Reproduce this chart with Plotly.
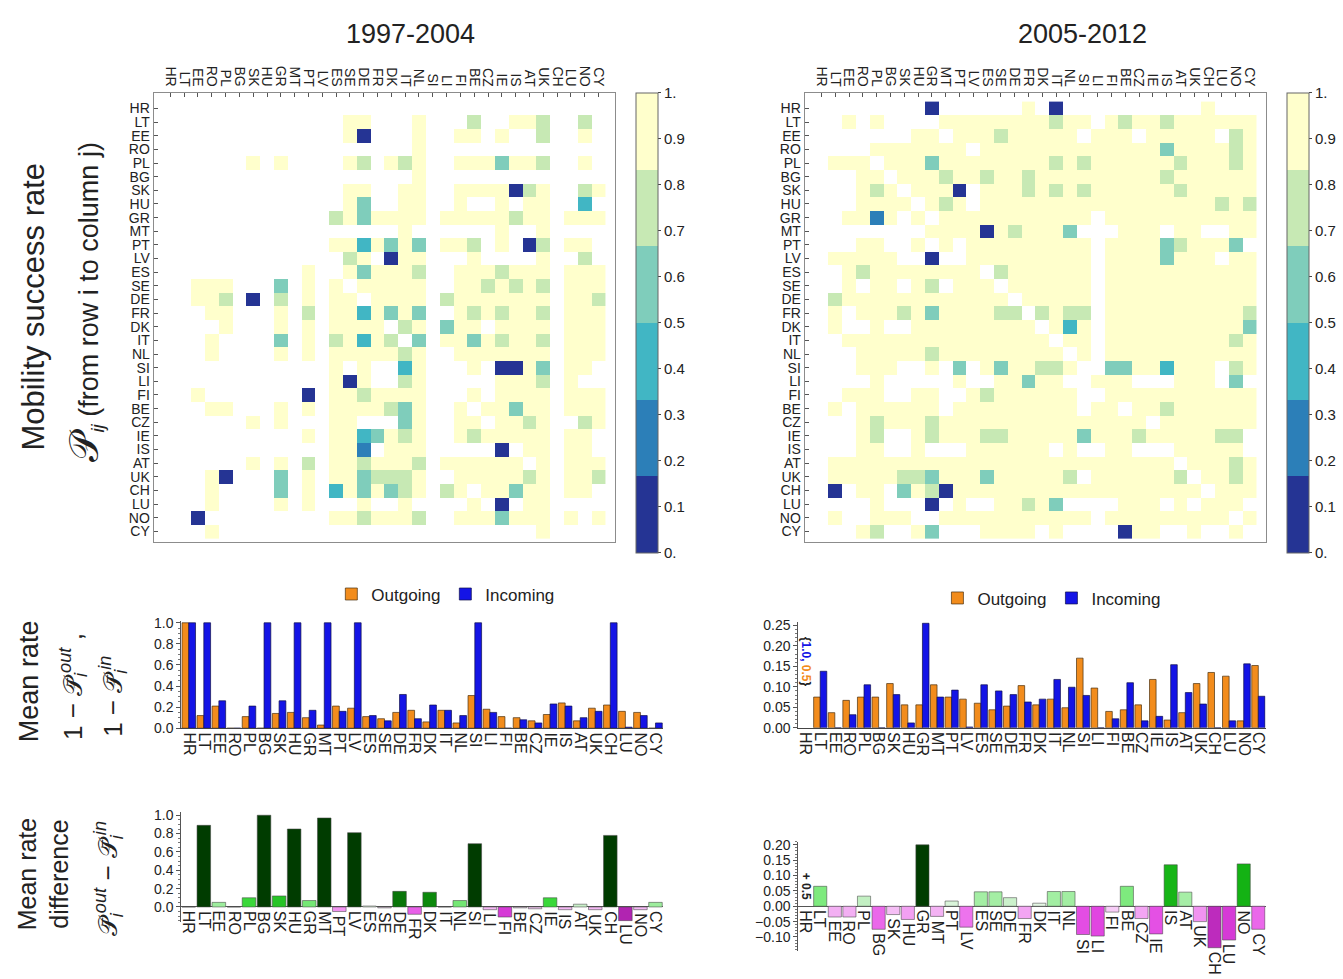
import plotly.graph_objects as go

W, H = 1343, 979

COUNTRIES = ["HR", "LT", "EE", "RO", "PL", "BG", "SK", "HU", "GR", "MT", "PT", "LV",
             "ES", "SE", "DE", "FR", "DK", "IT", "NL", "SI", "LI", "FI", "BE", "CZ",
             "IE", "IS", "AT", "UK", "CH", "LU", "NO", "CY"]

PERIODS = ["1997-2004", "2005-2012"]

# Success-rate class of each matrix cell; "." means no recorded moves.
LEVEL_VALUES = {"0": 0.06, "1": 0.25, "2": 0.42, "3": 0.58, "4": 0.75, "5": 0.93}

# Rows = origin country i, columns = destination country j (same order as COUNTRIES).
P_1997 = [
    "................................",
    ".............55...5...4..554..4.",
    ".............50...5..55.5..4..5.",
    "..................5.............",
    "......5.5....54.545..5553554..5.",
    "..................5.............",
    ".............55..55..5555045..45",
    ".............53..55..5..5.55..2.",
    "............4535555.55555455.555",
    ".................5......5..5....",
    "............5525353.554.5.04.55.",
    ".............45.055...5....5..4.",
    "..........5..535554..5554555.555",
    "..555...3.5.5.55555..5545454.555",
    "..554.0.4.5.55.5555.45555555.554",
    "...55...5.4.5525353..5454554.555",
    "....5...5.5.5555.45.355.5555.555",
    "...5....3.5.45254.3.55354554.555",
    "...5....5.5.5555545..5555555.555",
    "............5.5..25...5.0053.55.",
    "............505..45.....5554.5..",
    "..5.......0.5545555...5.5555.555",
    "...55...5.5.5555435..5.55355.555",
    "......5.5...55...35..55.5545..45",
    "..........5.5523545..5455555.55.",
    "............551.555.....0.55.55.",
    "......5.5.4.5545554.555555.5.555",
    "...50...3.5.5534445..5555545.554",
    "...5....3.5.2535345.45.55355.55.",
    "...5....5.5...5..5....5.0.55....",
    "..0.........5545554..5553555.5.5",
    "...5.......................5....",
]

P_2005 = [
    "........0......5.0..........5...",
    "..5.5....55555555455.54554555555",
    ".......55.555455555.555.55555.45",
    "....5555555.55555555555553555545",
    ".555.555355555555454555555455545",
    "...55.55545545545555555554555555",
    "...545.5550.55545454555555455555",
    "...5555.545.55555555555555555454",
    "..5515.5.55555555555.55555555555",
    "........55550545553...555.55..55",
    "...55..5.5.555555555.5555345553.",
    ".55555..0..555555555.55553555.55",
    "..5455555555.4555555.55555555555",
    "..5.55.54.555.555555.55555555555",
    ".4555555555555.55555.55555555555",
    ".5.555453555544.4544.55555555554",
    ".5..5..555555555.525.55555555553",
    "..555555555555555.55.55555555545",
    "...555554555555555.5.55555555555",
    "...555..5.3.5355445..33552555.45",
    "....5.....5..55355..555...555.3.",
    "..555..55..54555555..55555555555",
    ".5.555555.555555555.55.554555555",
    "...545554555555555555555.5555555",
    "...54..545554455555355545555544.",
    "...55..5...555555.5..55...55555.",
    ".5555555555555555555555555.55545",
    ".555554435553555554.5555554.5545",
    ".0.55.3540555555555555555555.555",
    "....5...0.5..55453....555.5.555.",
    ".5..555..55555555555.555555555.5",
    "...54..53...5555.5....055..5..5.",
]

# Mean rates 1 - P_out (outgoing) and 1 - P_in (incoming) per country.
OUT_1997 = [1.0, 0.12, 0.21, 0.0, 0.11, 0.0, 0.14, 0.15, 0.10, 0.03, 0.21, 0.19,
            0.11, 0.09, 0.15, 0.17, 0.06, 0.17, 0.05, 0.31, 0.18, 0.11, 0.10, 0.07,
            0.13, 0.24, 0.07, 0.19, 0.22, 0.16, 0.15, 0.0]
IN_1997 = [1.0, 1.0, 0.26, 0.0, 0.21, 1.0, 0.26, 1.0, 0.17, 1.0, 0.16, 1.0,
           0.12, 0.07, 0.32, 0.09, 0.22, 0.17, 0.12, 1.0, 0.15, 0.0, 0.08, 0.05,
           0.23, 0.21, 0.10, 0.16, 1.0, 0.01, 0.12, 0.05]
OUT_2005 = [None, 0.075, 0.037, 0.067, 0.075, 0.075, 0.108, 0.056, 0.056, 0.105, 0.075, 0.070,
            0.060, 0.044, 0.053, 0.103, 0.056, 0.070, 0.049, 0.170, 0.097, 0.040, 0.044, 0.056,
            0.118, 0.019, 0.037, 0.108, 0.135, 0.126, 0.017, 0.152]
IN_2005 = [None, 0.138, 0.0, 0.032, 0.105, 0.0, 0.081, 0.012, 0.255, 0.075, 0.092, 0.002,
           0.105, 0.090, 0.081, 0.063, 0.070, 0.118, 0.099, 0.079, 0.0, 0.022, 0.110, 0.017,
           0.028, 0.154, 0.086, 0.058, 0.0, 0.017, 0.156, 0.077]
# HR 2005-2012 lies outside the plotted range: (incoming, outgoing)
HR_2005_IN, HR_2005_OUT = 1.0, 0.5

# Mean rate difference P_out - P_in per country.
DIFF_1997 = [0.0, 0.89, 0.05, 0.0, 0.10, 1.0, 0.12, 0.85, 0.07, 0.97, -0.05, 0.81,
             0.01, -0.01, 0.17, -0.08, 0.16, 0.0, 0.07, 0.69, -0.03, -0.11, -0.01, -0.02,
             0.10, -0.03, 0.03, -0.03, 0.78, -0.15, -0.03, 0.05]
DIFF_2005 = [None, 0.065, -0.035, -0.035, 0.033, -0.075, -0.027, -0.043, 0.20, -0.033, 0.017, -0.068,
             0.047, 0.047, 0.028, -0.04, 0.01, 0.048, 0.048, -0.092, -0.097, -0.019, 0.065, -0.04,
             -0.09, 0.135, 0.046, -0.05, -0.135, -0.11, 0.138, -0.075]
HR_2005_DIFF = 0.5

FONT = "Liberation Sans, Arial, sans-serif"
ORANGE = "#f28c1c"
BLUE = "#1414e6"
HEAT_COLORS = ["#253494", "#2c7fb8", "#41b6c4", "#7fcdbb", "#c7e9b4", "#ffffcc"]


def px_x(p):
    return p / W


def px_y(p):
    return 1 - p / H


def decode(rows):
    return [[LEVEL_VALUES.get(ch) for ch in row] for row in rows]


def discrete_scale(colors):
    n = len(colors)
    scale = []
    for i, c in enumerate(colors):
        scale += [[i / n, c], [(i + 1) / n, c]]
    return scale


def hex_to_rgb(h):
    h = h.lstrip("#")
    return tuple(int(h[i:i + 2], 16) for i in (0, 2, 4))


def interp(stops, v):
    if v <= stops[0][0]:
        return stops[0][1]
    for (a, ca), (b, cb) in zip(stops, stops[1:]):
        if v <= b:
            t = (v - a) / (b - a)
            ra, rb = hex_to_rgb(ca), hex_to_rgb(cb)
            return "rgb(%d,%d,%d)" % tuple(round(x + (y - x) * t) for x, y in zip(ra, rb))
    return stops[-1][1]


POS_STOPS = [(0.0, "#f2fbf2"), (0.03, "#c8f0c8"), (0.06, "#88ec88"), (0.10, "#3ad83a"),
             (0.14, "#12b012"), (0.20, "#003c00")]
NEG_STOPS = [(0.0, "#fdf0fd"), (0.03, "#f4b8f4"), (0.06, "#f080f0"), (0.10, "#e040e0"),
             (0.14, "#b828b8"), (0.20, "#901090")]


def diff_color(v):
    if v is None:
        return "white"
    return interp(POS_STOPS, v) if v >= 0 else interp(NEG_STOPS, -v)


idx = list(range(len(COUNTRIES)))
fig = go.Figure()

# ---- success-rate matrices ----
heat_x = [(153, 615), (805, 1267)]
cbar_x = [636, 1288]
for k, (rows, xa, ya) in enumerate([(P_1997, "x", "y"), (P_2005, "x2", "y2")]):
    fig.add_trace(go.Heatmap(
        z=decode(rows), x=idx, y=idx, xaxis=xa, yaxis=ya,
        colorscale=discrete_scale(HEAT_COLORS), zmin=0, zmax=1,
        hoverongaps=False, showscale=True,
        colorbar=dict(
            x=px_x(cbar_x[k]), xanchor="left", y=px_y((88 + 555) / 2), yanchor="middle",
            len=467 / H, lenmode="fraction", thickness=22, thicknessmode="pixels",
            xpad=0, ypad=0, outlinewidth=1, outlinecolor="#666",
            tickvals=[i / 10 for i in range(11)],
            ticktext=["0."] + ["0.%d" % i for i in range(1, 10)] + ["1."],
            ticks="outside", ticklen=3, tickcolor="#444",
            tickfont=dict(family=FONT, size=15, color="#222"),
        ),
    ))

heat_axis = dict(
    tickmode="array", tickvals=idx, ticktext=COUNTRIES, showgrid=False, zeroline=False,
    showline=True, mirror=True, linecolor="#8c8c8c", linewidth=1.3,
    ticks="inside", ticklen=4, tickcolor="#555",
    tickfont=dict(family=FONT, size=14, color="#222"),
)
for k, (xn, yn) in enumerate([("xaxis", "yaxis"), ("xaxis2", "yaxis2")]):
    anchor_y = "y" if k == 0 else "y2"
    anchor_x = "x" if k == 0 else "x2"
    fig.layout[xn] = dict(heat_axis, domain=[px_x(heat_x[k][0]), px_x(heat_x[k][1])],
                          range=[-1.2, 32.2], side="top", tickangle=90, anchor=anchor_y)
    fig.layout[yn] = dict(heat_axis, domain=[px_y(544), px_y(88)],
                          range=[31.79, -1.15], anchor=anchor_x)

# ---- mean rates: outgoing / incoming ----
for out_vals, in_vals, xa, ya, lg in [(OUT_1997, IN_1997, "x3", "y3", "legend"),
                                      (OUT_2005, IN_2005, "x4", "y4", "legend2")]:
    fig.add_trace(go.Bar(x=idx, y=out_vals, xaxis=xa, yaxis=ya, name="Outgoing",
                         width=0.45, offset=-0.45, legend=lg,
                         marker=dict(color=ORANGE, line=dict(color="#4a3010", width=0.7))))
    fig.add_trace(go.Bar(x=idx, y=in_vals, xaxis=xa, yaxis=ya, name="Incoming",
                         width=0.45, offset=0.0, legend=lg,
                         marker=dict(color=BLUE, line=dict(color="#10104a", width=0.7))))

# ---- mean rate difference ----
for diff, xa, ya in [(DIFF_1997, "x5", "y5"), (DIFF_2005, "x6", "y6")]:
    fig.add_trace(go.Bar(x=idx, y=diff, xaxis=xa, yaxis=ya, width=0.9, showlegend=False,
                         marker=dict(color=[diff_color(v) for v in diff],
                                     line=dict(color="rgba(70,70,70,0.55)", width=1))))

val_axis = dict(showgrid=False, showline=True, linecolor="#555", linewidth=1,
                ticks="outside", ticklen=4, tickcolor="#555",
                tickfont=dict(family=FONT, size=14, color="#222"))
cat_axis = dict(showgrid=False, zeroline=False, range=[-0.5, 31.5], fixedrange=True)

left_x = [px_x(180.5), px_x(663)]
right_x = [px_x(798.5), px_x(1266.5)]

fig.layout.xaxis3 = dict(cat_axis, domain=left_x, anchor="y3", showline=True, linecolor="#444",
                         tickmode="array", tickvals=idx, ticktext=COUNTRIES, tickangle=90,
                         ticks="", tickfont=dict(family=FONT, size=16, color="#222"))
fig.layout.yaxis3 = dict(val_axis, domain=[px_y(732.7), px_y(623.6)], range=[0, 1.02],
                         anchor="x3", tickvals=[0, 0.2, 0.4, 0.6, 0.8, 1.0], tickformat=".1f",
                         zeroline=False,
                         minor=dict(ticks="outside", ticklen=2, dtick=0.05, tickcolor="#777"))
fig.layout.xaxis4 = dict(cat_axis, domain=right_x, anchor="y4", showline=True, linecolor="#444",
                         tickmode="array", tickvals=idx, ticktext=COUNTRIES, tickangle=90,
                         ticks="", tickfont=dict(family=FONT, size=16, color="#222"))
fig.layout.yaxis4 = dict(val_axis, domain=[px_y(732.3), px_y(625)], range=[0, 0.258],
                         anchor="x4", tickvals=[0, 0.05, 0.1, 0.15, 0.2, 0.25], tickformat=".2f",
                         zeroline=False,
                         minor=dict(ticks="outside", ticklen=2, dtick=0.01, tickcolor="#777"))
fig.layout.xaxis5 = dict(cat_axis, domain=left_x, anchor="y5", showline=False,
                         showticklabels=False, ticks="")
fig.layout.yaxis5 = dict(val_axis, domain=[px_y(928.9), px_y(818.2)], range=[-0.16, 1.03],
                         anchor="x5", tickvals=[0, 0.2, 0.4, 0.6, 0.8, 1.0], tickformat=".1f",
                         zeroline=True, zerolinecolor="#555", zerolinewidth=1,
                         minor=dict(ticks="outside", ticklen=2, dtick=0.05, tickcolor="#777"))
fig.layout.xaxis6 = dict(cat_axis, domain=right_x, anchor="y6", showline=False,
                         showticklabels=False, ticks="")
fig.layout.yaxis6 = dict(val_axis, domain=[px_y(958.5), px_y(847.9)], range=[-0.145, 0.21],
                         anchor="x6", tickvals=[-0.1, -0.05, 0, 0.05, 0.1, 0.15, 0.2],
                         tickformat=".2f", zeroline=True, zerolinecolor="#555", zerolinewidth=1,
                         minor=dict(ticks="outside", ticklen=2, dtick=0.01, tickcolor="#777"))

annotations = []

# country labels under the difference bars (pushed below negative bars)
for diff, xa, ya in [(DIFF_1997, "x5", "y5"), (DIFF_2005, "x6", "y6")]:
    for i, (c, v) in enumerate(zip(COUNTRIES, diff)):
        base = 0 if v is None else min(v, 0)
        annotations.append(dict(x=i, y=base, xref=xa, yref=ya, text=c, showarrow=False,
                                textangle=90, yanchor="top", xanchor="center", yshift=-2,
                                font=dict(family=FONT, size=16, color="#222")))

# off-scale notes for HR in 2005-2012
annotations.append(dict(
    x=0, y=0.162, xref="x4", yref="y4", showarrow=False, textangle=90,
    xanchor="center", yanchor="middle",
    text="<b>{<span style='color:%s'>%.1f,</span> <span style='color:%s'>%.1f</span>}</b>"
         % (BLUE, HR_2005_IN, ORANGE, HR_2005_OUT),
    font=dict(family=FONT, size=12, color="#222")))
annotations.append(dict(
    x=0, y=0.065, xref="x6", yref="y6", showarrow=False, textangle=90,
    xanchor="center", yanchor="middle",
    text="<b>+ %.1f</b>" % HR_2005_DIFF, font=dict(family=FONT, size=12, color="#222")))

# period titles
for title, cx in zip(PERIODS, [410, 1083]):
    annotations.append(dict(x=px_x(cx), y=px_y(28), xref="paper", yref="paper", text=title,
                            showarrow=False, xanchor="center", yanchor="middle",
                            font=dict(family=FONT, size=27, color="#222")))

SCRIPT_P = "\U0001D4AB"
side_titles = [
    ("Mobility success rate", 33, 305, 31),
    ("<span style='font-size:40px'>%s</span><sub><i>ij</i></sub> (from row i to column j)" % SCRIPT_P,
     84, 300, 27),
    ("Mean rate", 28, 685, 27),
    ("1 − %s̄<sub><i>i</i></sub><sup><i>out</i></sup> ," % SCRIPT_P, 72, 690, 26),
    ("1 − %s̄<sub><i>i</i></sub><sup><i>in</i></sup>" % SCRIPT_P, 112, 700, 26),
    ("Mean rate<br>difference", 42, 880, 25),
    ("%s̄<sub><i>i</i></sub><sup><i>out</i></sup> − %s̄<sub><i>i</i></sub><sup><i>in</i></sup>"
     % (SCRIPT_P, SCRIPT_P), 108, 885, 26),
]
for text, cx, cy, size in side_titles:
    annotations.append(dict(x=px_x(cx), y=px_y(cy), xref="paper", yref="paper", text=text,
                            showarrow=False, textangle=-90, xanchor="center", yanchor="middle",
                            font=dict(family=FONT, size=size, color="#222")))

legend_style = dict(orientation="h", xanchor="center", yanchor="middle",
                    bgcolor="rgba(0,0,0,0)", font=dict(family=FONT, size=17, color="#222"),
                    itemwidth=30, tracegroupgap=0)

fig.update_layout(
    width=W, height=H, autosize=False,
    margin=dict(l=0, r=0, t=0, b=0, pad=0),
    paper_bgcolor="white", plot_bgcolor="white",
    barmode="overlay",
    annotations=annotations,
    legend=dict(legend_style, x=px_x(445), y=px_y(597)),
    legend2=dict(legend_style, x=px_x(1052), y=px_y(601)),
)

fig.write_html("out.html")
